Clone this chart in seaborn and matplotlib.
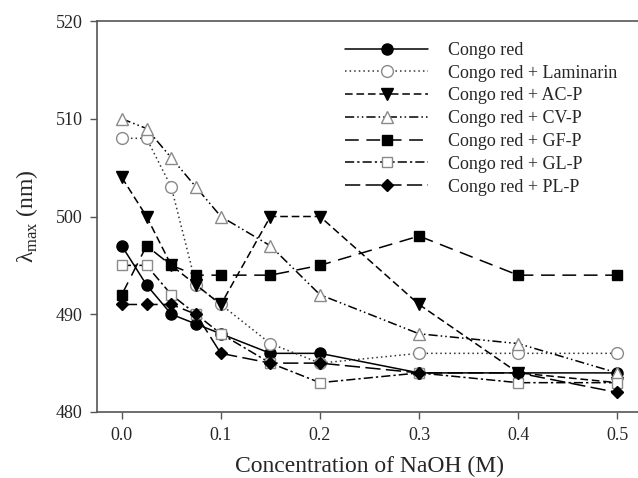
import seaborn as sns
import matplotlib
matplotlib.use("Agg")
import matplotlib.pyplot as plt

###################
# Data
conc = [0.0, 0.025, 0.05, 0.075, 0.1, 0.15, 0.2, 0.3, 0.4, 0.5]

congo_red = [497, 493, 490, 489, 488, 486, 486, 484, 484, 484]
laminarin = [508, 508, 503, 493, 491, 487, 485, 486, 486, 486]
ac_p = [504, 500, 495, 493, 491, 500, 500, 491, 484, 483]
cv_p = [510, 509, 506, 503, 500, 497, 492, 488, 487, 484]
gf_p = [492, 497, 495, 494, 494, 494, 495, 498, 494, 494]
gl_p = [495, 495, 492, 490, 488, 485, 483, 484, 483, 483]
pl_p = [491, 491, 491, 490, 486, 485, 485, 484, 484, 482]

labels = ["Congo red", "Congo red + Laminarin", "Congo red + AC-P", "Congo red + CV-P",
          "Congo red + GF-P", "Congo red + GL-P", "Congo red + PL-P"]
x_ticks = [0.0, 0.1, 0.2, 0.3, 0.4, 0.5]
y_ticks = [480, 490, 500, 510, 520]

###################
# Setup
sns.set_style("ticks")
plt.rcParams["font.family"] = ["Liberation Serif", "DejaVu Serif"]
plt.rcParams["mathtext.fontset"] = "custom"
plt.rcParams["mathtext.rm"] = "Liberation Serif"

fig = plt.figure(figsize=(6.38, 4.78), dpi=100)
ax = fig.add_axes([97 / 638, 66 / 478, 545 / 638, 391 / 478])

grey = "#8a8a8a"
styles = [
    dict(ls="-", marker="o", ms=8, mfc="black", mec="black", color="black"),
    dict(ls=(0, (1, 2)), marker="o", ms=8.5, mfc="white", mec=grey, color="#333333"),
    dict(ls=(0, (5, 2.5)), marker="v", ms=8.5, mfc="black", mec="black", color="black"),
    dict(ls=(0, (6, 2, 1, 2, 1, 2)), marker="^", ms=8.5, mfc="white", mec=grey, color="black"),
    dict(ls=(0, (9, 5)), marker="s", ms=7, mfc="black", mec="black", color="black"),
    dict(ls=(0, (6, 2, 1.5, 2)), marker="s", ms=7, mfc="white", mec=grey, color="black"),
    dict(ls=(0, (10, 3.5)), marker="D", ms=6.5, mfc="black", mec="black", color="black"),
]
series = [congo_red, laminarin, ac_p, cv_p, gf_p, gl_p, pl_p]

for vals, lab, st in zip(series, labels, styles):
    sns.lineplot(x=conc, y=vals, ax=ax, label=lab, linestyle=st["ls"], color=st["color"],
                 marker=st["marker"], markersize=st["ms"], markerfacecolor=st["mfc"],
                 markeredgecolor=st["mec"], markeredgewidth=1.0, linewidth=1.1)

ax.set_xlim(-0.025, 0.525)
ax.set_ylim(480, 520)
ax.set_xticks(x_ticks)
ax.set_xticklabels([f"{t:.1f}" for t in x_ticks])
ax.set_yticks(y_ticks)
ax.tick_params(labelsize=13, length=5, width=1, color="#555555", direction="out", pad=5.5)
for side in ["left", "bottom", "top"]:
    ax.spines[side].set_color("#555555")
    ax.spines[side].set_linewidth(1.2)
ax.spines["right"].set_visible(False)

ax.set_xlabel("Concentration of NaOH (M)", fontsize=17, labelpad=9)
ax.set_ylabel(r"λ$_{\mathrm{max}}$ (nm)", fontsize=17, labelpad=11)

ax.legend(loc="upper left", bbox_to_anchor=(241 / 545, 0.965), frameon=False, fontsize=13,
          handlelength=4.6, handletextpad=1.1, labelspacing=0.32, borderaxespad=0)

###################
# Export
fig.savefig("out.png", dpi=100)
